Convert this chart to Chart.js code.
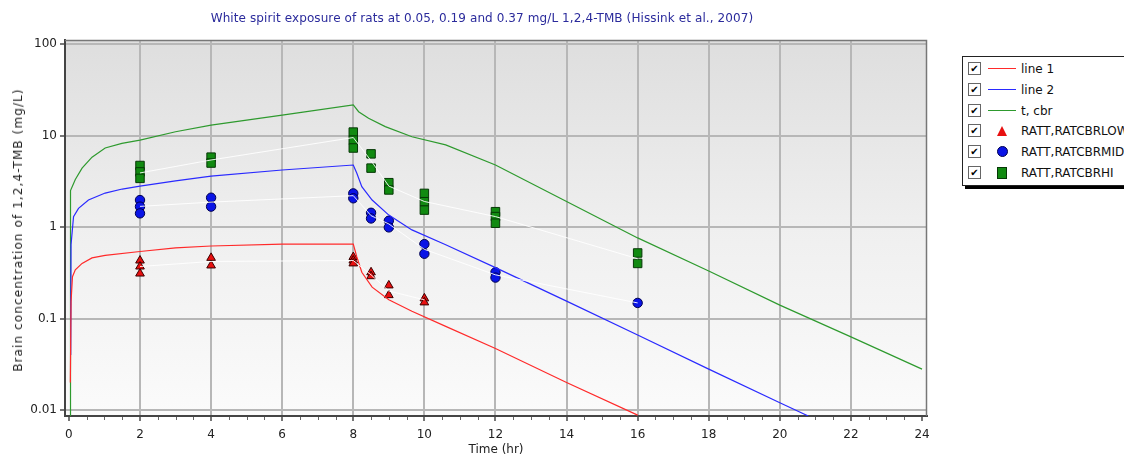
<!DOCTYPE html>
<html>
<head>
<meta charset="utf-8">
<script src="https://cdn.jsdelivr.net/npm/chart.js@4"></script>
<style>
body { margin: 0; background: #fff; width: 1124px; height: 457px; overflow: hidden; position: relative; font-family: "DejaVu Sans", sans-serif; }
#wrap { position: absolute; left: 0; top: 0; width: 940px; height: 457px; }
#title { position: absolute; left: 482px; top: 18px; transform: translate(-50%, -50%); white-space: nowrap; font-size: 12px; color: #2b2b9c; letter-spacing: 0.1px; }
#ytitle { position: absolute; left: 18px; top: 230px; transform: translate(-50%, -50%) rotate(-90deg); white-space: nowrap; font-size: 12px; letter-spacing: 1.1px; color: #222; }
#legend { position: absolute; left: 962px; top: 56px; width: 175px; height: 128px; border: 1px solid #222; background: #fff; box-shadow: 3px 3px 0 #000; font-size: 12px; color: #111; }
.row { position: absolute; left: 5px; height: 13px; display: flex; align-items: center; white-space: nowrap; }
.cb { width: 11px; height: 11px; border: 1px solid #666; font-size: 10px; line-height: 11px; text-align: center; color: #000; margin-right: 5px; }
.sw { width: 32px; height: 13px; display: flex; justify-content: center; align-items: center; margin-right: 3px; }
</style>
</head>
<body>
<div id="wrap"><canvas id="chart"></canvas></div>
<div id="title">White spirit exposure of rats at 0.05, 0.19 and 0.37 mg/L 1,2,4-TMB (Hissink et al., 2007)</div>
<div id="ytitle">Brain concentration of 1,2,4-TMB (mg/L)</div>
<div id="legend"></div>
<script>
// model curves (hr, mg/L)
const line1T = [0.04, 0.06, 0.1, 0.18, 0.37, 0.65, 1.02, 2, 3, 4, 6, 8, 8.1, 8.24, 8.53, 9, 9.65, 10.6, 12, 14, 16];
const line1 = [0.02, 0.153, 0.286, 0.34, 0.40, 0.46, 0.49, 0.54, 0.59, 0.62, 0.65, 0.65, 0.47, 0.32, 0.22, 0.16, 0.12, 0.082, 0.047, 0.02, 0.0088];
const line2T = [0.05, 0.06, 0.13, 0.27, 0.55, 1.02, 1.5, 2, 3, 4, 6, 8, 8.1, 8.24, 8.53, 9, 9.65, 10.6, 12, 14, 16, 18, 20, 20.8];
const line2 = [0.04, 0.64, 1.3, 1.6, 1.97, 2.35, 2.6, 2.8, 3.2, 3.6, 4.2, 4.76, 3.86, 2.76, 1.97, 1.35, 0.93, 0.64, 0.36, 0.155, 0.066, 0.028, 0.012, 0.0086];
const cbrT = [0.04, 0.045, 0.18, 0.37, 0.65, 1.02, 1.49, 2, 3, 4, 6, 8, 8.15, 8.43, 8.9, 9.65, 10.6, 12, 14, 16, 18, 20, 22, 24];
const cbr = [0.008, 2.5, 3.3, 4.4, 5.8, 7.3, 8.2, 8.9, 11, 13, 16.7, 21.6, 18.2, 15.4, 12.5, 9.7, 7.9, 4.76, 1.9, 0.76, 0.33, 0.14, 0.063, 0.028];

// observed brain concentrations
const lowT = [2, 2, 2, 4, 4, 8, 8, 8, 8.5, 8.5, 9, 9, 10, 10];
const lowC = [0.43, 0.37, 0.31, 0.46, 0.38, 0.47, 0.43, 0.40, 0.32, 0.29, 0.23, 0.18, 0.166, 0.15];
const midT = [2, 2, 2, 4, 4, 8, 8, 8.5, 8.5, 9, 9, 10, 10, 12, 12, 16];
const midC = [1.97, 1.67, 1.41, 2.09, 1.67, 2.33, 2.06, 1.43, 1.24, 1.17, 0.99, 0.65, 0.51, 0.32, 0.28, 0.148];
const hiT = [2, 2, 2, 4, 4, 8, 8, 8, 8.5, 8.5, 9, 9, 10, 10, 10, 12, 12, 12, 16, 16];
const hiC = [4.7, 4.0, 3.4, 5.8, 5.0, 10.9, 8.9, 7.3, 6.3, 4.4, 3.05, 2.54, 2.33, 1.89, 1.53, 1.47, 1.3, 1.1, 0.52, 0.4];

// faint white lines through the group means
const lowMeanT = [2, 4, 8, 8.5, 9, 10];
const lowMean = [0.37, 0.42, 0.43, 0.3, 0.2, 0.16];
const midMeanT = [2, 4, 8, 8.5, 9, 10, 12, 16];
const midMean = [1.68, 1.87, 2.2, 1.33, 1.08, 0.57, 0.3, 0.148];
const hiMeanT = [2, 4, 8, 8.5, 9, 10, 12, 16];
const hiMean = [3.9, 5.4, 9.5, 5.3, 2.8, 1.9, 1.3, 0.45];

const yTicks = [0.01, 0.1, 1, 10, 100];
const xTicks = [0, 2, 4, 6, 8, 10, 12, 14, 16, 18, 20, 22, 24];

const pts = (t, c) => t.map((x, i) => ({ x: x, y: c[i] }));

const plotBg = {
    id: 'plotBg',
    beforeDraw(chart) {
        const { ctx, chartArea: a } = chart;
        const g = ctx.createLinearGradient(0, a.top, 0, a.bottom);
        g.addColorStop(0, '#dedede');
        g.addColorStop(0.5, '#efefef');
        g.addColorStop(1, '#fbfbfb');
        ctx.save();
        ctx.fillStyle = g;
        ctx.fillRect(a.left, a.top, a.right - a.left, a.bottom - a.top);
        ctx.restore();
    },
    afterDraw(chart) {
        const { ctx, chartArea: a, scales } = chart;
        ctx.save();
        ctx.strokeStyle = '#777';
        ctx.lineWidth = 1.5;
        ctx.beginPath();
        ctx.moveTo(a.left, a.top + 0.5);
        ctx.lineTo(a.right - 0.5, a.top + 0.5);
        ctx.lineTo(a.right - 0.5, a.bottom);
        ctx.stroke();
        // minor ticks under x axis
        ctx.strokeStyle = '#666';
        ctx.lineWidth = 1;
        ctx.beginPath();
        for (let t = 0.5; t < 24; t += 0.5) {
            if (t % 2 === 0) continue;
            const px = Math.round(scales.x.getPixelForValue(t)) + 0.5;
            ctx.moveTo(px, a.bottom + 1);
            ctx.lineTo(px, a.bottom + 4);
        }
        ctx.stroke();
        ctx.restore();
    }
};

const lineDs = (label, t, c, color) => ({
    type: 'line', label: label, data: pts(t, c), borderColor: color, borderWidth: 1.2,
    pointRadius: 0, tension: 0, fill: false
});
const meanDs = (t, c) => ({
    type: 'line', label: '', data: pts(t, c), borderColor: 'rgba(255,255,255,0.9)', borderWidth: 1,
    pointRadius: 0, tension: 0, fill: false
});
const dotDs = (label, t, c, style, fillC, edge, r) => ({
    type: 'scatter', label: label, data: pts(t, c), pointStyle: style, backgroundColor: fillC,
    borderColor: edge, borderWidth: 1, pointRadius: r
});

new Chart(document.getElementById('chart'), {
    data: {
        datasets: [
            meanDs(lowMeanT, lowMean),
            meanDs(midMeanT, midMean),
            meanDs(hiMeanT, hiMean),
            lineDs('line 1', line1T, line1, '#ff2a2a'),
            lineDs('line 2', line2T, line2, '#2a2aff'),
            lineDs('t, cbr', cbrT, cbr, '#2e9a2e'),
            dotDs('RATT,RATCBRLOW', lowT, lowC, 'triangle', '#e81010', '#3a0000', 5),
            dotDs('RATT,RATCBRMID', midT, midC, 'circle', '#0a14e6', '#000050', 4.7),
            dotDs('RATT,RATCBRHI', hiT, hiC, 'rect', '#118a11', '#063806', 6)
        ]
    },
    options: {
        responsive: true, maintainAspectRatio: false, animation: false,
        layout: { padding: { left: 0, right: 13, top: 40, bottom: 0 } },
        plugins: {
            legend: { display: false },
            tooltip: { enabled: false }
        },
        scales: {
            x: {
                type: 'linear', min: -0.11, max: 24.14,
                afterBuildTicks: s => { s.ticks = xTicks.map(v => ({ value: v })); },
                afterFit: s => { s.height = 41; },
                ticks: { color: '#222', font: { family: 'DejaVu Sans', size: 12 }, padding: 7 },
                grid: {
                    color: c => (c.tick.value === 0 || c.tick.value === 24) ? 'rgba(0,0,0,0)' : '#b7b7b7',
                    lineWidth: 2, tickLength: 5, tickColor: '#777'
                },
                border: { color: '#444', width: 2 },
                title: { display: true, text: 'Time (hr)', color: '#222', font: { family: 'DejaVu Sans', size: 12 }, padding: { top: 0, bottom: 0 } }
            },
            y: {
                type: 'logarithmic', min: 0.0086, max: 110.6,
                afterBuildTicks: s => { s.ticks = yTicks.map(v => ({ value: v })); },
                afterFit: s => { s.width = 65; },
                ticks: { color: '#222', font: { family: 'DejaVu Sans', size: 12 }, padding: 3, callback: v => String(v) },
                grid: { color: '#b7b7b7', lineWidth: 2, tickLength: 5, tickColor: '#777' },
                border: { color: '#444', width: 2 }
            }
        }
    },
    plugins: [plotBg]
});

// legend with check boxes
const legendItems = [
    { text: 'line 1', kind: 'line', color: '#ff2a2a' },
    { text: 'line 2', kind: 'line', color: '#2a2aff' },
    { text: 't, cbr', kind: 'line', color: '#2e9a2e' },
    { text: 'RATT,RATCBRLOW', kind: 'tri', color: '#e81010' },
    { text: 'RATT,RATCBRMID', kind: 'dot', color: '#0a14e6' },
    { text: 'RATT,RATCBRHI', kind: 'sq', color: '#118a11' }
];
const leg = document.getElementById('legend');
legendItems.forEach((it, i) => {
    let sw;
    if (it.kind === 'line') sw = `<div style="width:28px;height:1px;background:${it.color}"></div>`;
    else if (it.kind === 'tri') sw = `<div style="width:0;height:0;border-left:5px solid transparent;border-right:5px solid transparent;border-bottom:10px solid ${it.color}"></div>`;
    else if (it.kind === 'dot') sw = `<div style="width:9px;height:9px;border-radius:50%;background:${it.color};border:1px solid #000050"></div>`;
    else sw = `<div style="width:8px;height:10px;background:${it.color};border:1px solid #063806"></div>`;
    leg.insertAdjacentHTML('beforeend',
        `<div class="row" style="top:${Math.round(5 + i * 20.8)}px"><div class="cb">✔</div><div class="sw">${sw}</div><span>${it.text}</span></div>`);
});
</script>
</body>
</html>
